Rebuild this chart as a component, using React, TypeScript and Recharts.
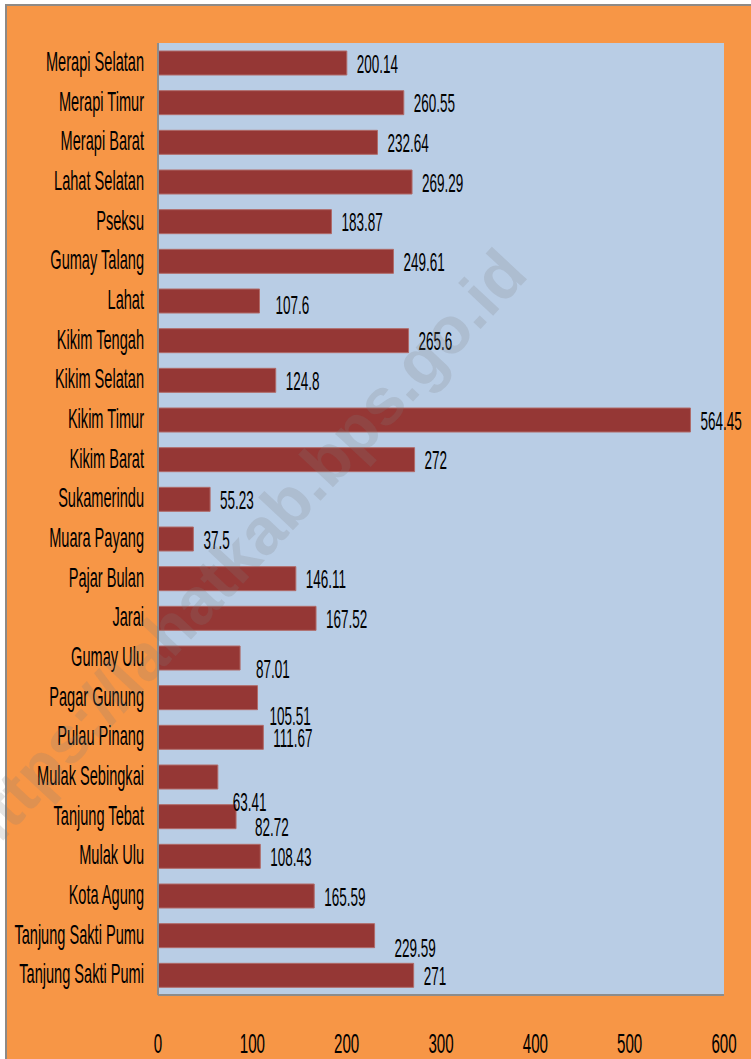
import React from 'react';
import { BarChart, Bar, XAxis, YAxis, CartesianGrid, LabelList } from 'recharts';

const districts = [
  'Merapi Selatan',
  'Merapi Timur',
  'Merapi Barat',
  'Lahat Selatan',
  'Pseksu',
  'Gumay Talang',
  'Lahat',
  'Kikim Tengah',
  'Kikim Selatan',
  'Kikim Timur',
  'Kikim Barat',
  'Sukamerindu',
  'Muara Payang',
  'Pajar Bulan',
  'Jarai',
  'Gumay Ulu',
  'Pagar Gunung',
  'Pulau Pinang',
  'Mulak Sebingkai',
  'Tanjung Tebat',
  'Mulak Ulu',
  'Kota Agung',
  'Tanjung Sakti Pumu',
  'Tanjung Sakti Pumi',
];

const area = [
  200.14, 260.55, 232.64, 269.29, 183.87, 249.61, 107.6, 265.6, 124.8, 564.45, 272, 55.23,
  37.5, 146.11, 167.52, 87.01, 105.51, 111.67, 63.41, 82.72, 108.43, 165.59, 229.59, 271,
];

const xTicks = [0, 100, 200, 300, 400, 500, 600];

const data = districts.map((name, i) => ({ name, value: area[i] }));

// some labels were pushed down/right in the original, keep that look
const labelNudge: Record<string, [number, number]> = {
  Lahat: [6, 3],
  'Gumay Ulu': [6, 10],
  'Pagar Gunung': [2, 18],
  'Mulak Sebingkai': [5, 24],
  'Tanjung Tebat': [9, 10],
  'Tanjung Sakti Pumu': [10, 12],
};

const SQUISH = 0.54;
const FONT = '"Liberation Sans", Arial, sans-serif';

function Squished({ x, y, size, anchor, children }: any) {
  return (
    <text
      transform={`translate(${x},${y}) scale(${SQUISH},1)`}
      fontFamily={FONT}
      fontSize={size}
      textAnchor={anchor}
      fill="#000"
    >
      {children}
    </text>
  );
}

function CategoryTick({ x, y, payload }: any) {
  return (
    <Squished x={x - 14} y={y + 8} size={27} anchor="end">
      {payload.value}
    </Squished>
  );
}

function ValueTick({ x, y, payload }: any) {
  return (
    <Squished x={x} y={y + 58} size={28} anchor="middle">
      {payload.value}
    </Squished>
  );
}

function ValueLabel({ x, y, width, height, value, index }: any) {
  const [dx, dy] = labelNudge[districts[index]] || [0, 0];
  return (
    <Squished x={x + width + 10 + dx} y={y + height / 2 + 9.5 + dy} size={25} anchor="start">
      {value}
    </Squished>
  );
}

export default function App() {
  return (
    <div style={{ position: 'absolute', left: 0, top: 0, width: 751, height: 1059, overflow: 'hidden' }}>
      <div
        style={{
          position: 'absolute',
          left: 5,
          top: 4,
          width: 746,
          height: 1075,
          boxSizing: 'border-box',
          borderTop: '2px solid #8e8a86',
          borderLeft: '2px solid #8e8a86',
          background: '#F79646',
        }}
      >
        <BarChart
          width={744}
          height={1073}
          data={data}
          layout="vertical"
          barSize={24}
          margin={{ top: 37, right: 27, left: 0, bottom: 20 }}
        >
          <CartesianGrid fill="#B9CDE5" horizontal={false} vertical={false} />
          <XAxis
            type="number"
            domain={[0, 600]}
            ticks={xTicks}
            height={64}
            axisLine={{ stroke: '#8c8c8c', strokeWidth: 2 }}
            tickLine={false}
            tickSize={0}
            tickMargin={0}
            tick={<ValueTick />}
            interval={0}
          />
          <YAxis
            type="category"
            dataKey="name"
            width={151}
            axisLine={{ stroke: '#8c8c8c', strokeWidth: 2 }}
            tickLine={false}
            tickSize={0}
            tickMargin={0}
            tick={<CategoryTick />}
            interval={0}
          />
          <Bar dataKey="value" fill="#953735" stroke="#b06a68" strokeWidth={1} isAnimationActive={false}>
            <LabelList dataKey="value" content={<ValueLabel />} />
          </Bar>
        </BarChart>
      </div>
      <svg
        width={751}
        height={1059}
        style={{ position: 'absolute', left: 0, top: 0, pointerEvents: 'none' }}
      >
        <text
          transform="translate(530,276) rotate(-47)"
          textAnchor="end"
          fontFamily={FONT}
          fontWeight="bold"
          fontSize={66}
          fill="#7f7f7f"
          fillOpacity={0.2}
        >
          https://lahatkab.bps.go.id
        </text>
      </svg>
    </div>
  );
}
